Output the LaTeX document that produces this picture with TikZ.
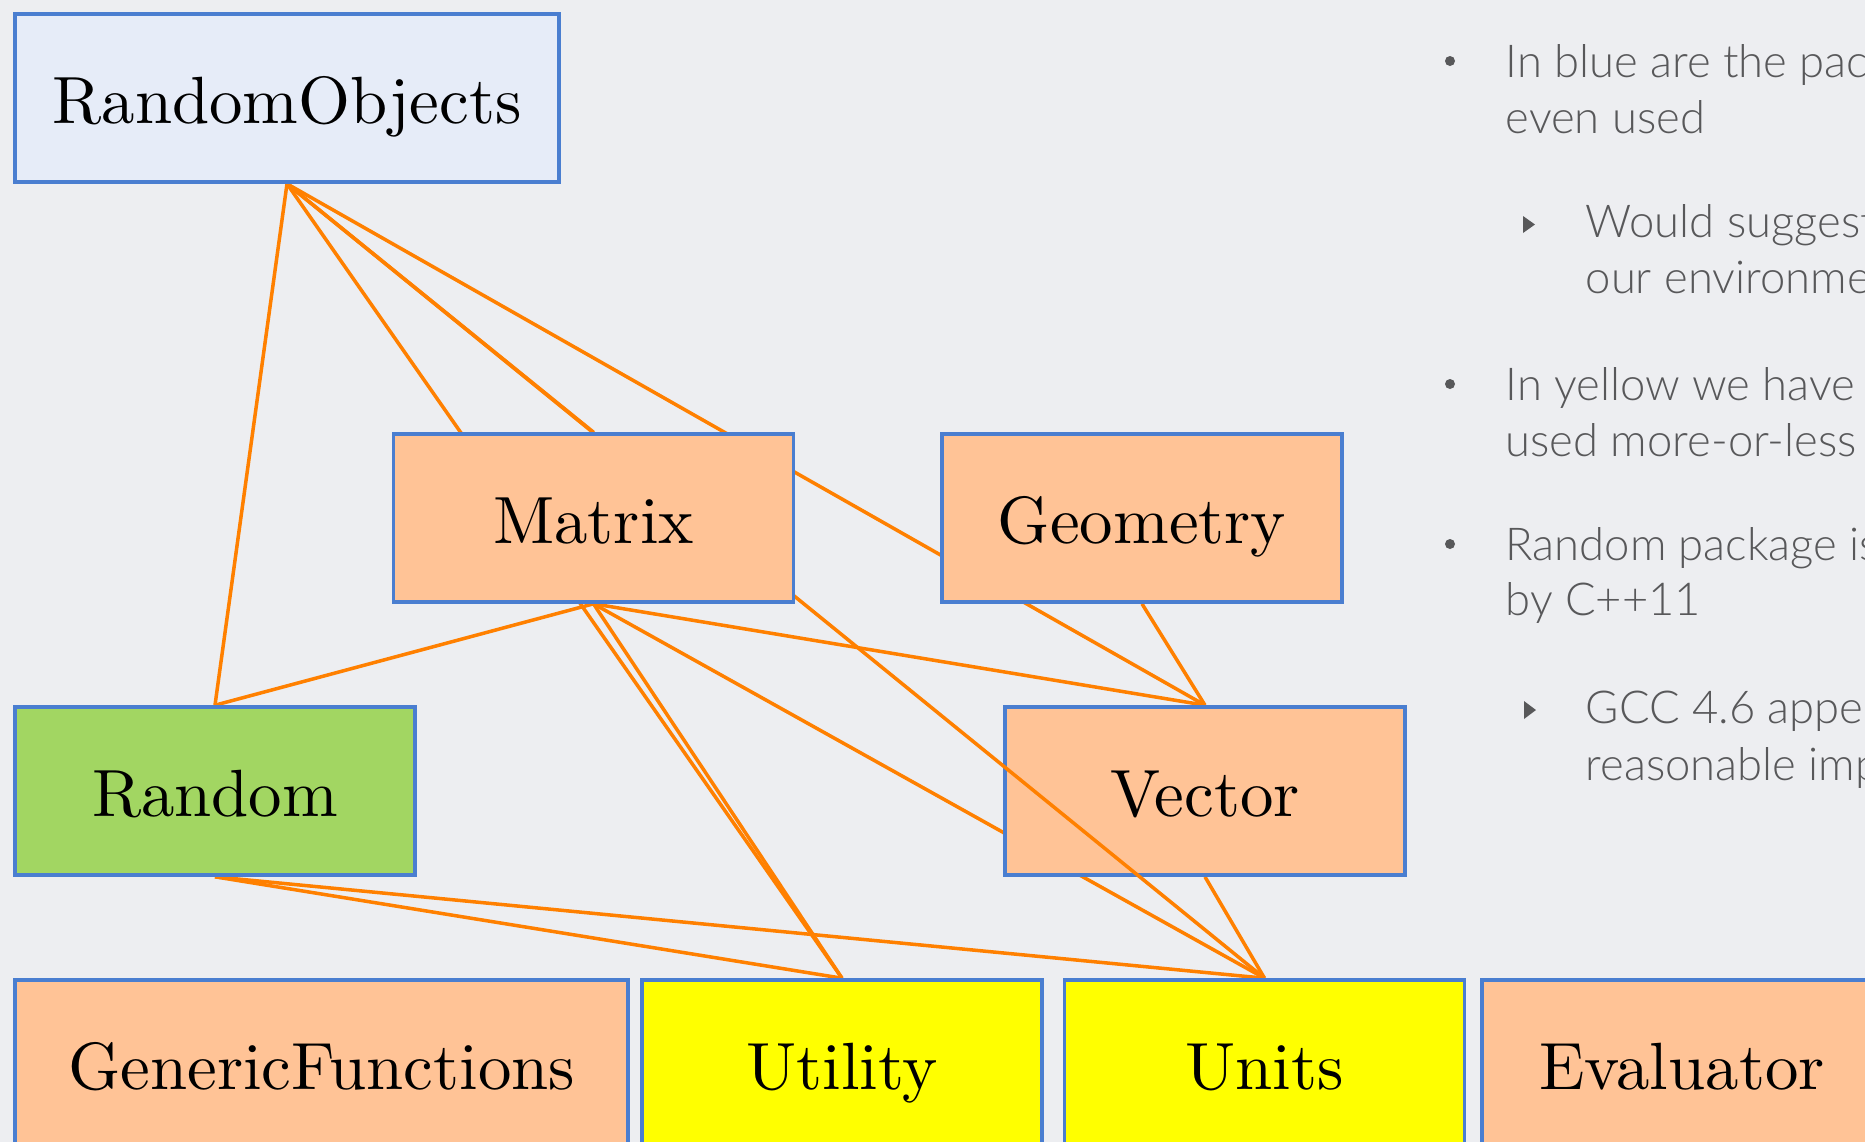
\documentclass[tikz,border=0pt]{standalone}
\usepackage{fontspec}
\usepackage{xcolor}
\newfontfamily\notefont{Lato Light}
\newfontfamily\pkgfont{lmroman10-regular}[Extension=.otf]

\definecolor{pagebg}{RGB}{237,238,241}
\definecolor{boxline}{RGB}{74,126,208}
\definecolor{rofill}{RGB}{230,236,248}
\definecolor{peach}{RGB}{255,195,150}
\definecolor{leaf}{RGB}{162,214,98}
\definecolor{lemon}{RGB}{255,255,0}
\definecolor{link}{RGB}{255,128,0}
\definecolor{notegray}{RGB}{88,88,90}

\pgfdeclarelayer{back}
\pgfdeclarelayer{under}
\pgfdeclarelayer{over}
\pgfsetlayers{back,under,over,main}

\begin{document}
\begin{tikzpicture}[
    x=0.01cm, y=-0.01cm,
    pkg/.style={draw=boxline, line width=1pt, fill=peach, minimum width=40mm,
                minimum height=16.8mm, inner sep=0pt, text height=14.5pt, text depth=0pt,
                font={\pkgfont\fontsize{19}{23}\selectfont}},
    dep/.style={draw=link, line width=1pt},
    note/.style={anchor=base west, inner sep=0pt, text=notegray,
                 font={\notefont\fontsize{12.9}{15}\selectfont}},
  ]

  \useasboundingbox (0,0) rectangle (1865,1142);
  \clip (0,0) rectangle (1865,1142);
  \begin{pgfonlayer}{back}
    \fill[pagebg] (0,0) rectangle (1865,1142);
  \end{pgfonlayer}

  % packages
  \node[pkg, fill=rofill, minimum width=54.4mm] (robj) at (287,98) {RandomObjects};
  \node[pkg] (mat) at (593.5,518) {Matrix};
  \node[pkg] (geo) at (1142,518) {Geometry};
  \node[pkg, fill=leaf] (rnd) at (215,791) {Random};
  \begin{pgfonlayer}{under}
    \node[pkg] (vec) at (1205,791) {Vector};
  \end{pgfonlayer}
  \node[pkg, minimum width=61.3mm] (gen) at (321.5,1064) {GenericFunctions};
  \node[pkg, fill=lemon] (util) at (842,1064) {Utility};
  \node[pkg, fill=lemon] (units) at (1264.5,1064) {Units};
  \node[pkg] (eval) at (1682,1064) {Evaluator};

  % dependencies
  \begin{pgfonlayer}{back}
    \draw[dep] (robj.south) -- (rnd.north);
    \draw[dep] (robj.south) -- (mat.north);
    \draw[dep] (robj.south) -- (util.north);
    \draw[dep] (robj.south) -- (vec.north);
    \draw[dep] (mat.south) -- (rnd.north);
    \draw[dep] (mat.south) -- (util.north);
    \draw[dep] (mat.south) -- (units.north);
    \draw[dep] (mat.south) -- (vec.north);
    \draw[dep] (geo.south) -- (vec.north);
    \draw[dep] (vec.south) -- (units.north);
    \draw[dep] (rnd.south) -- (util.north);
    \draw[dep] (rnd.south) -- (units.north);
  \end{pgfonlayer}
  \begin{pgfonlayer}{over}
    \draw[dep] (robj.south) -- (units.north);
  \end{pgfonlayer}

  % notes
  \fill[notegray] (1450,61) circle (5);
  \node[note] (n1) at (1505,77) {In blue are the pac};
  \node[note] (n2) at (1505,133) {even used};
  \fill[notegray] (1523,216) -- (1523,233) -- (1535,224.5) -- cycle;
  \node[note] (n3) at (1585,237) {Would suggest};
  \node[note] (n4) at (1585,293) {our environme};
  \fill[notegray] (1450,384) circle (5);
  \node[note] (n5) at (1505,400) {In yellow we have t};
  \node[note] (n6) at (1505,456) {used more-or-less};
  \fill[notegray] (1450,544) circle (5);
  \node[note] (n7) at (1505,560) {Random package is};
  \node[note] (n8) at (1505,615) {by C++11};
  \fill[notegray] (1524,701) -- (1524,719) -- (1536,710) -- cycle;
  \node[note] (n9) at (1585,723) {GCC 4.6 appe};
  \node[note] (n10) at (1585,780) {reasonable imp};

\end{tikzpicture}
\end{document}
